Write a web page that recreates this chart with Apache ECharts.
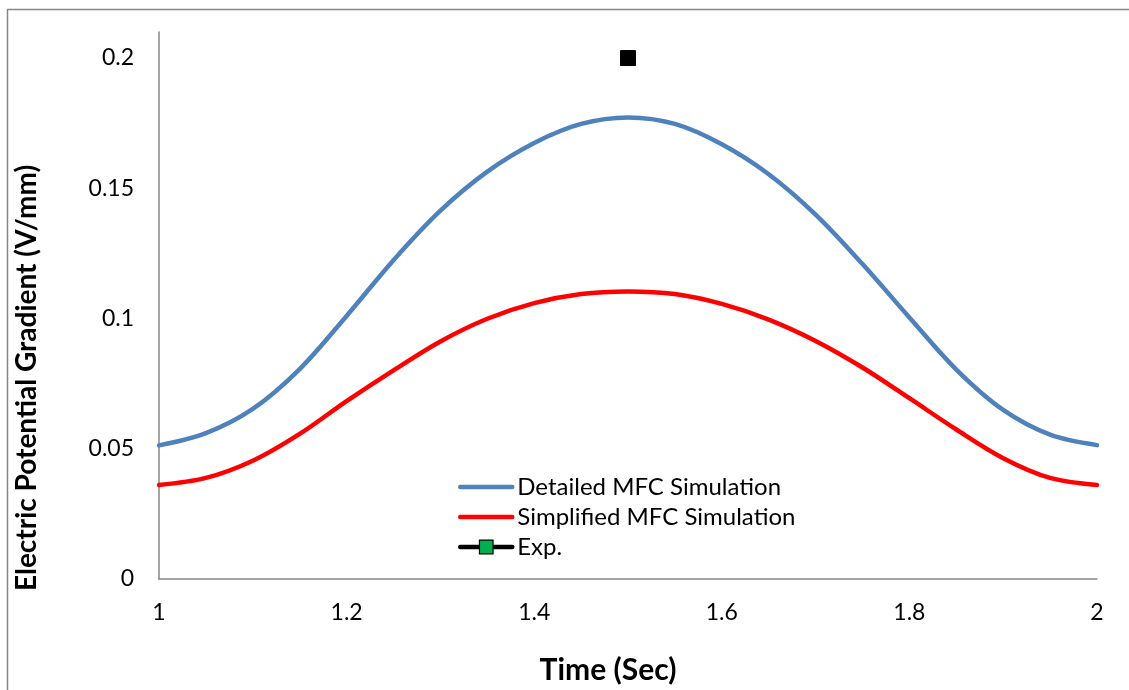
<!DOCTYPE html>
<html>
<head>
<meta charset="utf-8">
<script src="https://cdn.jsdelivr.net/npm/echarts@6/dist/echarts.min.js"></script>
<style>
  html, body { margin: 0; padding: 0; background: #fff; }
  #chart { width: 1129px; height: 690px; }
</style>
</head>
<body>
<div id="chart"></div>
<script>
// Time samples (s)
const timeSec = [1.0, 1.05, 1.1, 1.15, 1.2, 1.25, 1.3, 1.35, 1.4, 1.45, 1.5,
                 1.55, 1.6, 1.65, 1.7, 1.75, 1.8, 1.85, 1.9, 1.95, 2.0];
// Electric potential gradient (V/mm)
const detailedMFC = [0.0513, 0.0560, 0.0653, 0.0806, 0.1010, 0.1224, 0.1414, 0.1564, 0.1674, 0.1747, 0.1772,
                     0.1747, 0.1669, 0.1554, 0.1399, 0.1209, 0.1004, 0.0804, 0.0649, 0.0554, 0.0514];
const simplifiedMFC = [0.0361, 0.0388, 0.0454, 0.0557, 0.0683, 0.0801, 0.0912, 0.0999, 0.1059, 0.1094, 0.1104,
                       0.1094, 0.1056, 0.0996, 0.0914, 0.0812, 0.0694, 0.0574, 0.0464, 0.0388, 0.0361];
const expTime = [1.5];
const expValue = [0.2];

const seriesNames = ['Detailed MFC Simulation', 'Simplified MFC Simulation', 'Exp.'];
const xTicks = { min: 1, max: 2, step: 0.2 };
const yTicks = { min: 0, max: 0.21, step: 0.05 };

const FONT = 'Lato, "Open Sans", sans-serif';
const AXIS_GRAY = '#868686';
const BLUE = '#4f81bd';
const RED = '#ff0000';

const pairs = (xs, ys) => xs.map((x, i) => [x, ys[i]]);

const chart = echarts.init(document.getElementById('chart'), null, { renderer: 'canvas' });

chart.setOption({
  backgroundColor: '#ffffff',
  animation: false,
  textStyle: { fontFamily: FONT },
  grid: { left: 159, right: 32, top: 32, bottom: 111, containLabel: false },
  xAxis: {
    type: 'value',
    min: xTicks.min, max: xTicks.max, interval: xTicks.step,
    axisLine: { show: true, lineStyle: { color: AXIS_GRAY, width: 1.5 } },
    axisTick: { show: false },
    splitLine: { show: false },
    axisLabel: { color: '#000', fontSize: 23, fontFamily: FONT, margin: 22 }
  },
  yAxis: {
    type: 'value',
    min: yTicks.min, max: yTicks.max, interval: yTicks.step,
    axisLine: { show: true, onZero: false, lineStyle: { color: AXIS_GRAY, width: 1.5 } },
    axisTick: { show: false },
    splitLine: { show: false },
    axisLabel: { color: '#000', fontSize: 23, fontFamily: FONT, margin: 25, showMaxLabel: false }
  },
  legend: {
    orient: 'vertical',
    left: 458, top: 475, padding: 0,
    itemWidth: 52, itemHeight: 17, itemGap: 6,
    textStyle: { color: '#000', fontSize: 24, fontFamily: FONT },
    data: [
      { name: seriesNames[0], itemStyle: { color: 'rgba(0,0,0,0)', borderWidth: 0 },
        lineStyle: { color: BLUE, width: 4.5, cap: 'round' } },
      { name: seriesNames[1], itemStyle: { color: 'rgba(0,0,0,0)', borderWidth: 0 },
        lineStyle: { color: RED, width: 4.5, cap: 'round' } },
      { name: seriesNames[2], itemStyle: { color: '#00b050', borderColor: '#000', borderWidth: 1.2 },
        lineStyle: { color: '#000', width: 4.5, cap: 'round' } }
    ]
  },
  graphic: [
    { type: 'rect', silent: true, shape: { x: 7.5, y: 9.5, width: 1200, height: 800 },
      style: { fill: 'none', stroke: AXIS_GRAY, lineWidth: 1.5 } },
    { type: 'text', silent: true, x: 608, y: 670,
      style: { text: 'Time (Sec)', x: 0, y: 0, align: 'center', verticalAlign: 'middle',
               fontSize: 30, fontWeight: 'bold', fontFamily: FONT, fill: '#000' } },
    { type: 'text', silent: true, x: 27, y: 378, rotation: Math.PI / 2,
      style: { text: 'Electric Potential Gradient (V/mm)', x: 0, y: 0, align: 'center', verticalAlign: 'middle',
               fontSize: 28, fontWeight: 'bold', fontFamily: FONT, fill: '#000' } }
  ],
  series: [
    {
      name: seriesNames[0], type: 'line', smooth: 0.34, symbol: 'none',
      data: pairs(timeSec, detailedMFC),
      lineStyle: { color: BLUE, width: 4.5, cap: 'round' },
      itemStyle: { color: BLUE }
    },
    {
      name: seriesNames[1], type: 'line', smooth: 0.34, symbol: 'none',
      data: pairs(timeSec, simplifiedMFC),
      lineStyle: { color: RED, width: 4.5, cap: 'round' },
      itemStyle: { color: RED }
    },
    {
      name: seriesNames[2], type: 'line', symbol: 'rect', symbolSize: 15,
      data: pairs(expTime, expValue),
      lineStyle: { color: '#000', width: 4.5 },
      itemStyle: { color: '#000', borderColor: '#000' }
    }
  ]
});
</script>
</body>
</html>
